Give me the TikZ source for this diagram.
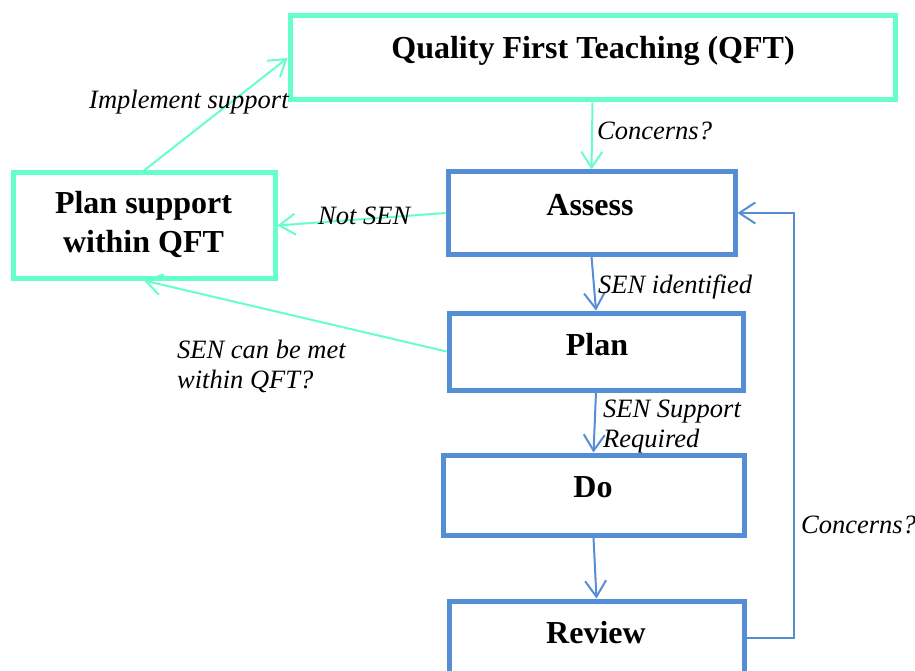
\documentclass[tikz,border=0pt]{standalone}
\usepackage{fontspec}
\setmainfont{Liberation Serif}
\usetikzlibrary{positioning}
\usetikzlibrary{arrows.meta}
\definecolor{qftgreen}{RGB}{102,255,204}
\definecolor{senblue}{RGB}{85,142,213}

\begin{document}
\begin{tikzpicture}
[x=1pt,y=-1pt,
 box/.style={shape=rectangle,draw,line width=5pt,inner sep=0pt},
 qftbox/.style={box,draw=qftgreen},
 senbox/.style={box,draw=senblue},
 boxtext/.style={font=\fontsize{32}{39}\selectfont\bfseries,anchor=base,align=center,inner sep=0pt},
 edgetext/.style={font=\fontsize{26.5}{30}\selectfont\itshape,anchor=base west,align=left,inner sep=0pt},
 link/.style={line width=2pt,-{Straight Barb[length=16pt,width=21pt]}},
 qftlink/.style={link,draw=qftgreen},
 senlink/.style={link,draw=senblue}]

\useasboundingbox (0,0) rectangle (915,671);

% boxes
\node (qft) [qftbox,minimum width=605,minimum height=84] at (592.5,58) {};
\node (plansup) [qftbox,minimum width=262,minimum height=105] at (144,225.5) {};
\node (assess) [senbox,minimum width=287,minimum height=82] at (591.5,213) {};
\node (plan) [senbox,minimum width=294,minimum height=77] at (596,351.5) {};
\node (do) [senbox,minimum width=301,minimum height=80] at (593.5,495) {};
\node (review) [senbox,minimum width=295,minimum height=74] at (596.5,638) {};

% box texts
\node (qft-t) [boxtext] at (593,59) {Quality First Teaching (QFT)};
\node (plansup-t) [boxtext] at (143.5,252) {Plan support\\within QFT};
\node (assess-t) [boxtext] at (590,215) {Assess};
\node (plan-t) [boxtext] at (597,355) {Plan};
\node (do-t) [boxtext] at (593,497) {Do};
\node (review-t) [boxtext] at (596,643) {Review};

% links
\draw [qftlink] (qft.south) -- (assess.north);
\draw [qftlink] (assess.west) -- (plansup.east);
\draw [qftlink] (plan.west) -- (plansup.south);
\draw [qftlink] (plansup.north) -- (qft.west);
\draw [senlink] (assess.south) -- (plan.north);
\draw [senlink] (plan.south) -- (do.north);
\draw [senlink] (do.south) -- (review.north);
\draw [senlink] (review.east) -- ++(47,0) |- (assess.east);

% link texts
\node (concerns1) [edgetext] at (597,140) {Concerns?};
\node (notsen) [edgetext] at (318,225) {Not SEN};
\node (senid) [edgetext] at (598,293) {SEN identified};
\node (metqft) [edgetext] at (177,388) {SEN can be met\\within QFT?};
\node (senreq) [edgetext] at (603,447) {SEN Support\\Required};
\node (concerns2) [edgetext] at (801,533) {Concerns?};
\node (implement) [edgetext] at (89,109) {Implement support};
\end{tikzpicture}
\end{document}
